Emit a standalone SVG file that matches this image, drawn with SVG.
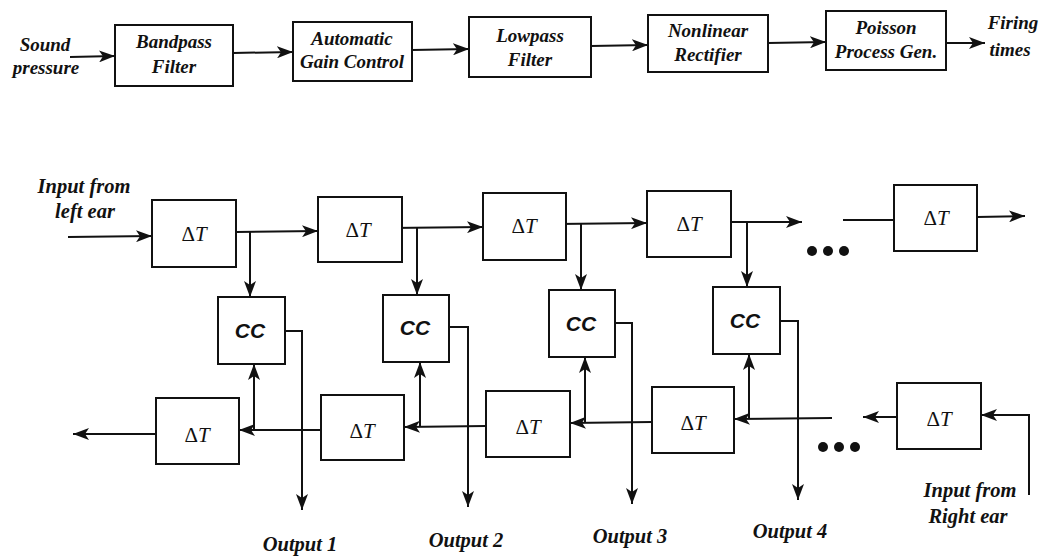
<svg xmlns="http://www.w3.org/2000/svg" width="1044" height="556" viewBox="0 0 1044 556">
<style>
.box{fill:#fff;stroke:#111;stroke-width:2}
.ln{fill:none;stroke:#111;stroke-width:2}
.lbl{font-family:"Liberation Serif",serif;font-style:italic;font-weight:bold;font-size:19px;fill:#111;text-anchor:middle}
.lbl2{font-family:"Liberation Serif",serif;font-style:italic;font-weight:bold;font-size:20.5px;fill:#111;text-anchor:middle}
.dt{font-family:"Liberation Serif",serif;font-size:21px;fill:#111;text-anchor:middle}
.cc{font-family:"Liberation Sans",sans-serif;font-style:italic;font-weight:bold;font-size:21px;fill:#111;text-anchor:middle}
.dot{fill:#111}
</style>
<defs>
<marker id="ah" viewBox="0 0 16 12" markerWidth="16" markerHeight="12" refX="16" refY="6" orient="auto" markerUnits="userSpaceOnUse">
<path d="M0,0 L16,6 L0,12 L4,6 z" fill="#111"/>
</marker>
</defs>

<g id="connectors">
<!-- top chain -->
<line class="ln" x1="70" y1="57" x2="115" y2="56" marker-end="url(#ah)"/>
<line class="ln" x1="233" y1="53" x2="293" y2="52" marker-end="url(#ah)"/>
<line class="ln" x1="412" y1="50" x2="469" y2="49" marker-end="url(#ah)"/>
<line class="ln" x1="591" y1="46" x2="648" y2="45" marker-end="url(#ah)"/>
<line class="ln" x1="768" y1="43" x2="826" y2="42" marker-end="url(#ah)"/>
<line class="ln" x1="946" y1="43" x2="985" y2="43" marker-end="url(#ah)"/>

<!-- upper delay line -->
<line class="ln" x1="68" y1="237" x2="152" y2="236" marker-end="url(#ah)"/>
<line class="ln" x1="236" y1="232" x2="318" y2="231" marker-end="url(#ah)"/>
<line class="ln" x1="250" y1="232" x2="250" y2="297" marker-end="url(#ah)"/>
<line class="ln" x1="390" y1="228" x2="483" y2="227" marker-end="url(#ah)"/>
<line class="ln" x1="417" y1="228" x2="417" y2="295" marker-end="url(#ah)"/>
<line class="ln" x1="557" y1="224" x2="647" y2="223" marker-end="url(#ah)"/>
<line class="ln" x1="581" y1="224" x2="581" y2="290" marker-end="url(#ah)"/>
<line class="ln" x1="723" y1="222" x2="802" y2="222" marker-end="url(#ah)"/>
<line class="ln" x1="747" y1="222" x2="747" y2="287" marker-end="url(#ah)"/>
<line class="ln" x1="843" y1="220" x2="894" y2="220"/>
<line class="ln" x1="977" y1="217" x2="1025" y2="216" marker-end="url(#ah)"/>

<!-- CC outputs -->
<polyline class="ln" points="285,331 302,331 302,510" marker-end="url(#ah)"/>
<polyline class="ln" points="449,327 468,327 468,507" marker-end="url(#ah)"/>
<polyline class="ln" points="615,323 632,323 632,504" marker-end="url(#ah)"/>
<polyline class="ln" points="780,321 798,321 798,500" marker-end="url(#ah)"/>

<!-- lower delay line -->
<line class="ln" x1="156" y1="434" x2="73" y2="434" marker-end="url(#ah)"/>
<line class="ln" x1="321" y1="430" x2="239" y2="430" marker-end="url(#ah)"/>
<line class="ln" x1="254" y1="430" x2="254" y2="364" marker-end="url(#ah)"/>
<line class="ln" x1="486" y1="426" x2="404" y2="427" marker-end="url(#ah)"/>
<line class="ln" x1="420" y1="427" x2="420" y2="362" marker-end="url(#ah)"/>
<line class="ln" x1="652" y1="422" x2="570" y2="423" marker-end="url(#ah)"/>
<line class="ln" x1="585" y1="423" x2="585" y2="357" marker-end="url(#ah)"/>
<line class="ln" x1="832" y1="418" x2="734" y2="419" marker-end="url(#ah)"/>
<line class="ln" x1="749" y1="419" x2="749" y2="354" marker-end="url(#ah)"/>
<line class="ln" x1="897" y1="417" x2="863" y2="417" marker-end="url(#ah)"/>
<polyline class="ln" points="1029,495 1029,415 981,415" marker-end="url(#ah)"/>
</g>

<!-- top chain nodes -->
<g id="in-sound">
<text class="lbl" x="45" y="51">Sound</text>
<text class="lbl" x="46" y="74">pressure</text>
</g>
<g id="bandpass">
<rect class="box" x="115" y="25" width="118" height="61"/>
<text class="lbl" x="174" y="48">Bandpass</text>
<text class="lbl" x="174" y="73">Filter</text>
</g>
<g id="agc">
<rect class="box" x="293" y="22" width="119" height="59"/>
<text class="lbl" x="352" y="45">Automatic</text>
<text class="lbl" x="352" y="68">Gain Control</text>
</g>
<g id="lowpass">
<rect class="box" x="469" y="17" width="122" height="60"/>
<text class="lbl" x="530" y="42">Lowpass</text>
<text class="lbl" x="530" y="66">Filter</text>
</g>
<g id="rectifier">
<rect class="box" x="648" y="15" width="120" height="57"/>
<text class="lbl" x="708" y="37">Nonlinear</text>
<text class="lbl" x="708" y="61">Rectifier</text>
</g>
<g id="poisson">
<rect class="box" x="826" y="11" width="120" height="59"/>
<text class="lbl" x="886" y="34">Poisson</text>
<text class="lbl" x="886" y="58">Process Gen.</text>
</g>
<g id="out-firing">
<text class="lbl" x="1013" y="29">Firing</text>
<text class="lbl" x="1010" y="56">times</text>
</g>

<!-- bottom -->
<g id="in-left">
<text class="lbl2" x="84" y="193">Input from</text>
<text class="lbl2" x="85" y="218">left ear</text>
</g>
<g id="dtA1"><rect class="box" x="152" y="200" width="84" height="67"/><text class="dt" x="194" y="241">Δ<tspan font-style="italic">T</tspan></text></g>
<g id="dtA2"><rect class="box" x="318" y="197" width="84" height="65"/><text class="dt" x="358" y="237">Δ<tspan font-style="italic">T</tspan></text></g>
<g id="dtA3"><rect class="box" x="483" y="193" width="83" height="67"/><text class="dt" x="524" y="233">Δ<tspan font-style="italic">T</tspan></text></g>
<g id="dtA4"><rect class="box" x="647" y="191" width="84" height="66"/><text class="dt" x="689" y="231">Δ<tspan font-style="italic">T</tspan></text></g>
<g id="dotsA">
<circle class="dot" cx="812" cy="251" r="5"/><circle class="dot" cx="828" cy="251" r="5"/><circle class="dot" cx="844" cy="251" r="5"/>
</g>
<g id="dtA5"><rect class="box" x="894" y="185" width="83" height="66"/><text class="dt" x="936" y="225">Δ<tspan font-style="italic">T</tspan></text></g>

<g id="cc1"><rect class="box" x="218" y="297" width="67" height="67"/><text class="cc" x="250" y="338">CC</text></g>
<g id="cc2"><rect class="box" x="383" y="295" width="66" height="67"/><text class="cc" x="415" y="335">CC</text></g>
<g id="cc3"><rect class="box" x="549" y="290" width="66" height="67"/><text class="cc" x="581" y="331">CC</text></g>
<g id="cc4"><rect class="box" x="713" y="287" width="67" height="67"/><text class="cc" x="745" y="328">CC</text></g>

<g id="dtB1"><rect class="box" x="156" y="398" width="83" height="66"/><text class="dt" x="197" y="442">Δ<tspan font-style="italic">T</tspan></text></g>
<g id="dtB2"><rect class="box" x="321" y="395" width="83" height="65"/><text class="dt" x="362" y="438">Δ<tspan font-style="italic">T</tspan></text></g>
<g id="dtB3"><rect class="box" x="486" y="391" width="84" height="66"/><text class="dt" x="528" y="434">Δ<tspan font-style="italic">T</tspan></text></g>
<g id="dtB4"><rect class="box" x="652" y="387" width="82" height="66"/><text class="dt" x="693" y="430">Δ<tspan font-style="italic">T</tspan></text></g>
<g id="dotsB">
<circle class="dot" cx="823" cy="447" r="5"/><circle class="dot" cx="839" cy="447" r="5"/><circle class="dot" cx="855" cy="447" r="5"/>
</g>
<g id="dtB5"><rect class="box" x="897" y="383" width="84" height="66"/><text class="dt" x="939" y="426">Δ<tspan font-style="italic">T</tspan></text></g>

<g id="in-right">
<text class="lbl2" x="970" y="497">Input from</text>
<text class="lbl2" x="968" y="523">Right ear</text>
</g>
<g id="out1"><text class="lbl2" x="300" y="551">Output 1</text></g>
<g id="out2"><text class="lbl2" x="466" y="547">Output 2</text></g>
<g id="out3"><text class="lbl2" x="630" y="543">Output 3</text></g>
<g id="out4"><text class="lbl2" x="790" y="538">Output 4</text></g>
</svg>
